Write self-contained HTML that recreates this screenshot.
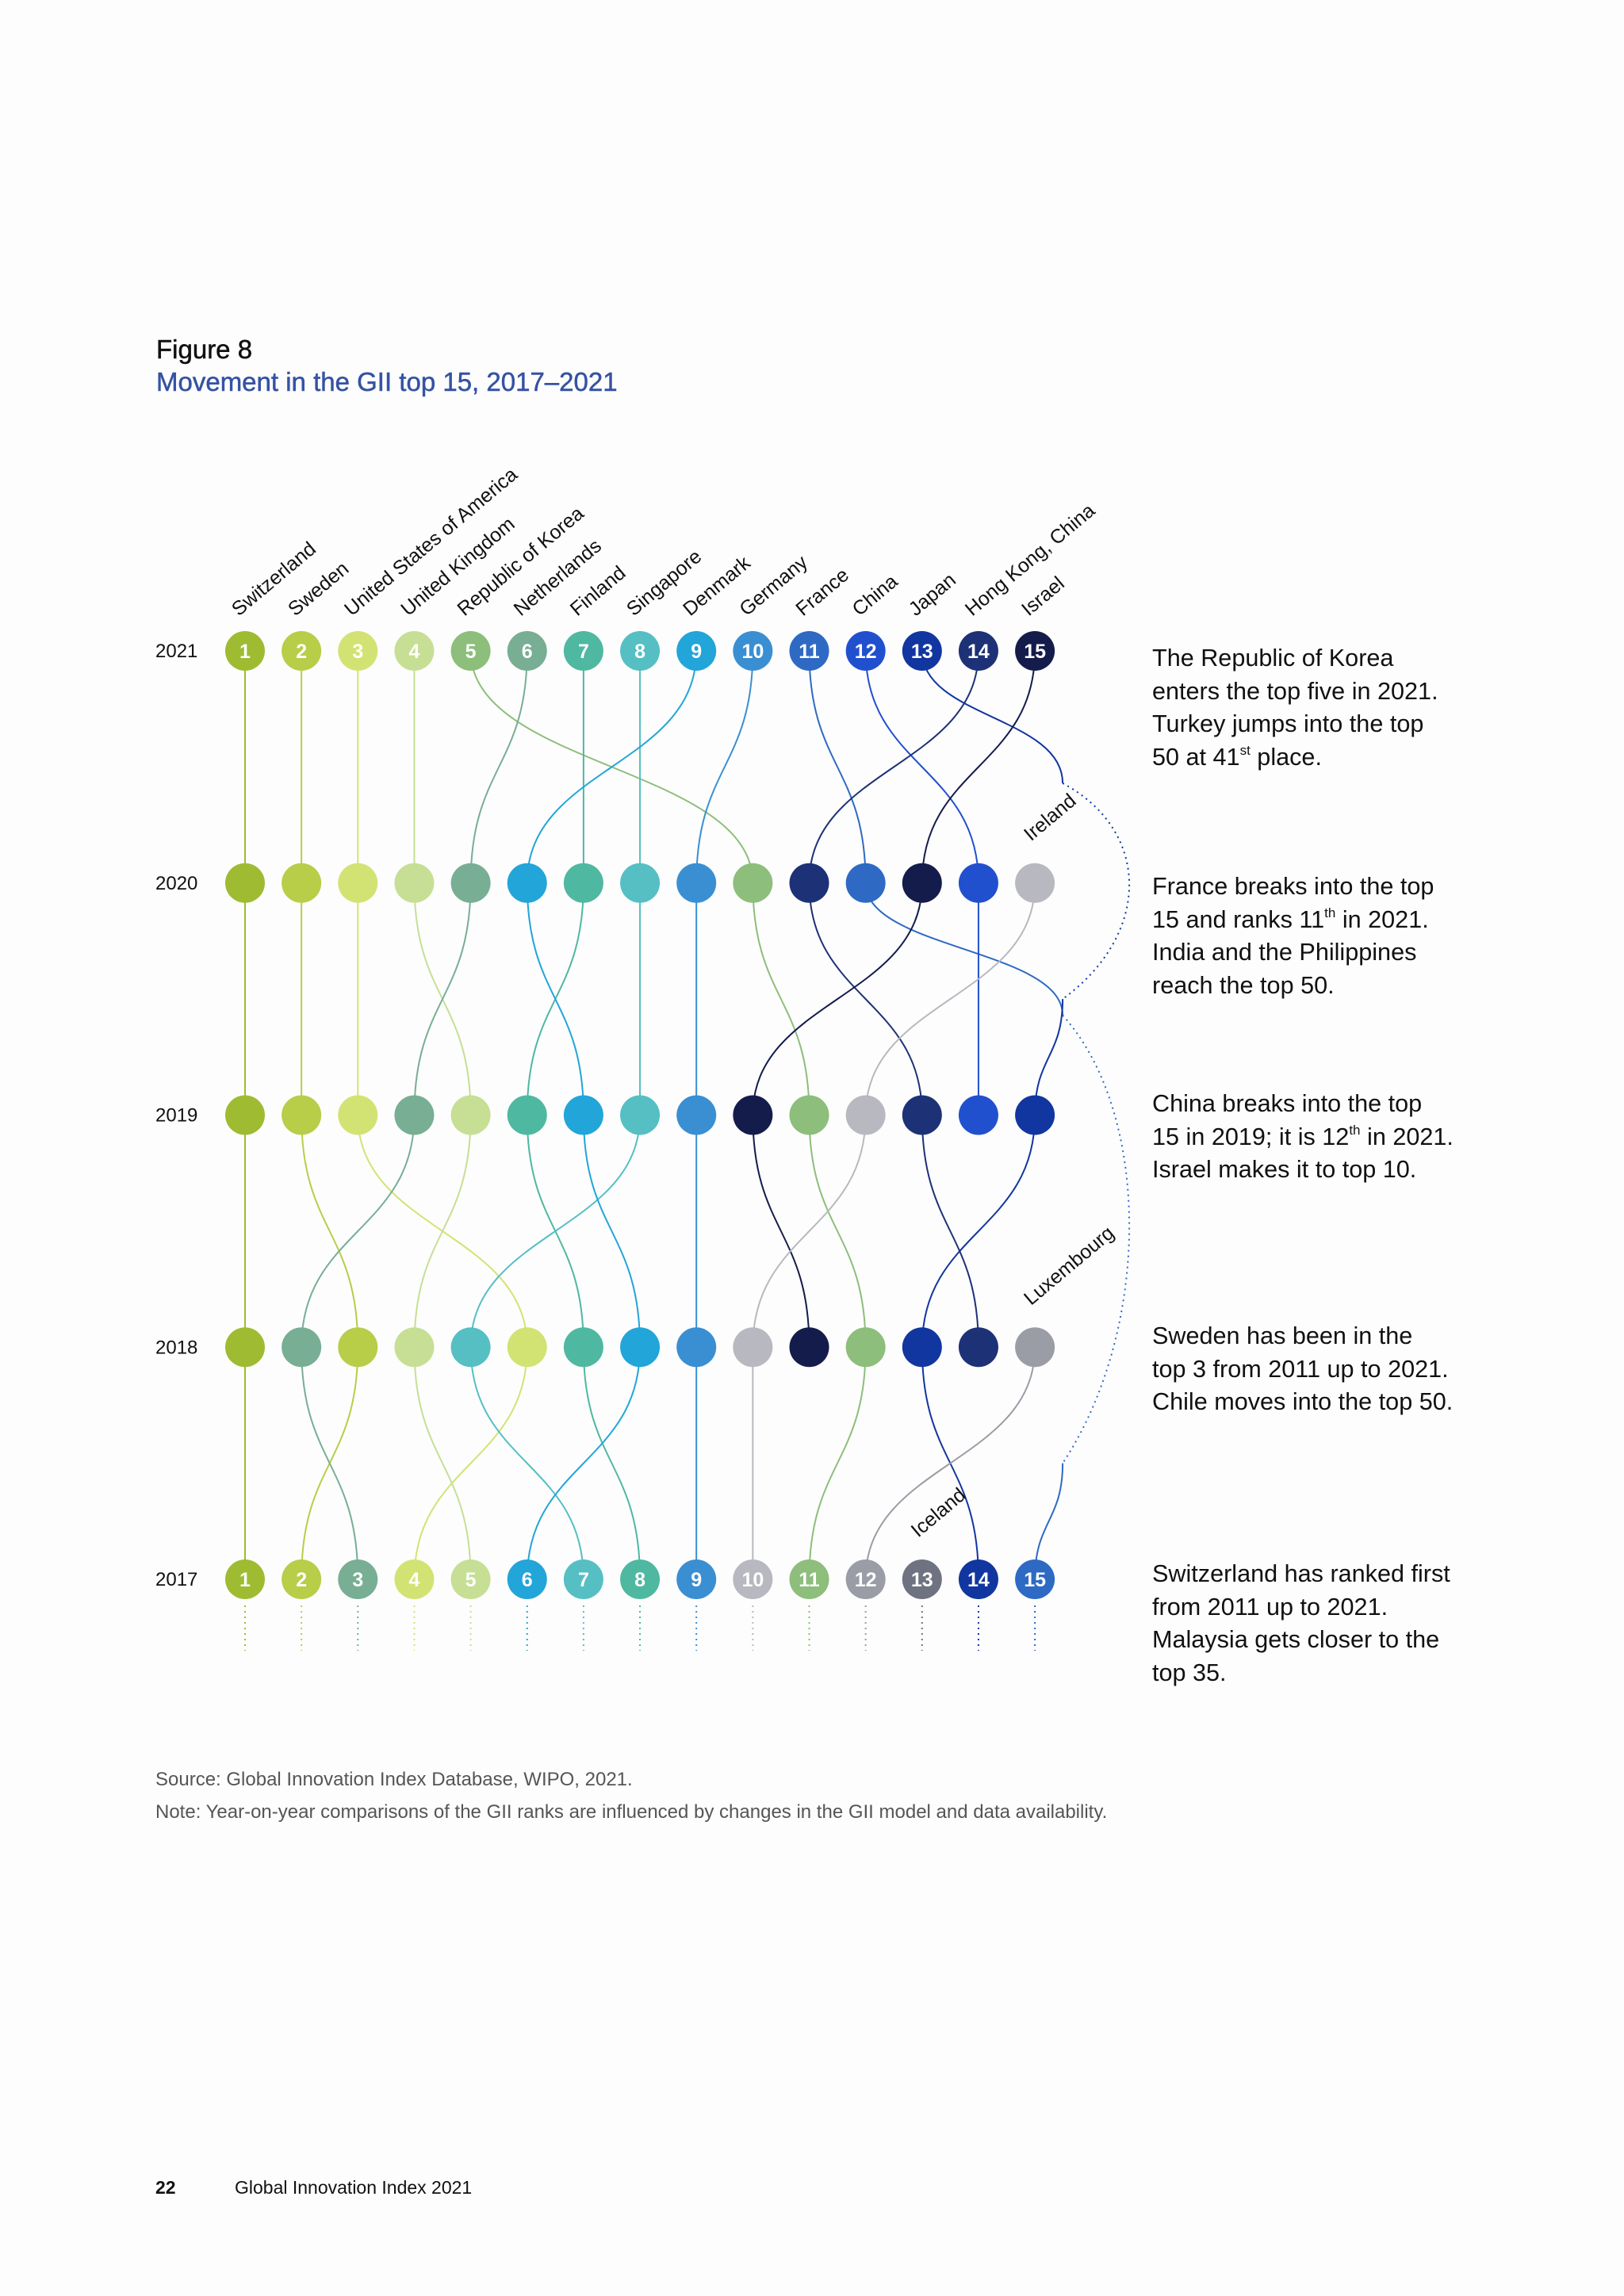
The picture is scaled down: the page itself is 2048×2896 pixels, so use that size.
<!DOCTYPE html>
<html><head><meta charset="utf-8">
<style>
html,body{margin:0;padding:0;background:#fdfdfd;}
body{width:2048px;height:2896px;position:relative;overflow:hidden;font-family:"Liberation Sans",Arial,sans-serif;}
.t{position:absolute;white-space:nowrap;}
.note{position:absolute;left:1453px;font-size:30.6px;line-height:41.5px;color:#111;}
sup{font-size:17px;line-height:0;vertical-align:13px;}
</style></head>
<body>
<div class="t" style="left:197px;top:422px;font-size:33px;color:#111;-webkit-text-stroke:0.5px #111;">Figure 8</div>
<div class="t" style="left:197px;top:463px;font-size:33px;color:#3552a3;-webkit-text-stroke:0.5px #3552a3;">Movement in the GII top 15, 2017–2021</div>

<svg id="chart" width="2048" height="2200" style="position:absolute;left:0;top:0;"></svg>

<div class="note" style="top:810px;">The Republic of Korea<br>enters the top five in 2021.<br>Turkey jumps into the top<br>50 at 41<sup>st</sup> place.</div>
<div class="note" style="top:1098px;">France breaks into the top<br>15 and ranks 11<sup>th</sup> in 2021.<br>India and the Philippines<br>reach the top 50.</div>
<div class="note" style="top:1372px;">China breaks into the top<br>15 in 2019; it is 12<sup>th</sup> in 2021.<br>Israel makes it to top 10.</div>
<div class="note" style="top:1665px;">Sweden has been in the<br>top 3 from 2011 up to 2021.<br>Chile moves into the top 50.</div>
<div class="note" style="top:1965px;">Switzerland has ranked first<br>from 2011 up to 2021.<br>Malaysia gets closer to the<br>top 35.</div>

<div class="t" style="left:196px;top:2231px;font-size:24px;color:#555;">Source: Global Innovation Index Database, WIPO, 2021.</div>
<div class="t" style="left:196px;top:2272px;font-size:24px;color:#555;">Note: Year-on-year comparisons of the GII ranks are influenced by changes in the GII model and data availability.</div>
<div class="t" style="left:196px;top:2746px;font-size:23px;font-weight:bold;color:#111;">22</div>
<div class="t" style="left:296px;top:2746px;font-size:23px;color:#111;">Global Innovation Index 2021</div>

<script>
const years = [2021, 2020, 2019, 2018, 2017];
const countries = ["Switzerland","Sweden","United States of America","United Kingdom","Republic of Korea","Netherlands","Finland","Singapore","Denmark","Germany","France","China","Japan","Hong Kong, China","Israel","Ireland","Luxembourg","Iceland"];
const rank2021 = [1,2,3,4,5,6,7,8,9,10,11,12,13,14,15,null,null,null];
const rank2020 = [1,2,3,4,10,5,7,8,6,9,12,14,null,11,13,15,null,null];
const rank2019 = [1,2,3,5,11,4,6,8,7,9,null,14,15,13,10,12,null,null];
const rank2018 = [1,3,6,4,12,2,7,5,8,9,null,null,13,14,11,10,15,null];
const rank2017 = [1,2,4,5,11,3,8,7,6,9,15,null,14,null,null,10,12,13];
const colors = ["#9fbb32","#b8cd48","#d3e373","#c6df95","#8dbe7b","#78ae94","#4fb8a0","#55bfc4","#22a5d9","#3a8fd3","#2e6ac4","#2150cf","#1236a0","#1d3176","#141c4c","#b8b8c0","#9a9ca6","#6f7280"];
const labeledLate = ["Ireland","Luxembourg","Iceland"];

const ranks = [rank2021, rank2020, rank2019, rank2018, rank2017];
const NS = "http://www.w3.org/2000/svg";
const svg = document.getElementById("chart");
const x0 = 309, dx = 71.15, y0 = 821, dy = 292.75, R = 25;
const xScale = r => x0 + (r - 1) * dx;
const yScale = i => y0 + i * dy;
const outX = xScale(15) + 35;

function mk(tag, attrs, parent) {
  const e = document.createElementNS(NS, tag);
  for (const k in attrs) e.setAttribute(k, attrs[k]);
  (parent || svg).appendChild(e);
  return e;
}
const gLines = mk("g", {});


const gDots = mk("g", {});



function curve(xa, ya, xb, yb) {
  const ym = (ya + yb) / 2;
  return `M${xa},${ya} C${xa},${ym} ${xb},${ym} ${xb},${yb}`;
}

years.forEach((y, i) => {
  const t = mk("text", {x: 196, y: yScale(i) + 8, "font-size": 24, fill: "#111", "font-family": "Liberation Sans, Arial, sans-serif"});
  t.textContent = y;
  
  
});

countries.forEach((c, k) => {
  const r = rank2021[k];
  if (r == null) return;
  const x = xScale(r) - 8, y = 778;
  const t = mk("text", {x: x, y: y, "font-size": 25, fill: "#111", transform: `rotate(-40 ${x} ${y})`, "font-family": "Liberation Sans, Arial, sans-serif"});
  t.textContent = c;
  
  
});

countries.forEach((c, k) => {
  const col = colors[k];
  let prev = null;
  for (let i = 0; i < years.length; i++) {
    const r = ranks[i][k];
    if (r == null) continue;
    if (prev !== null) {
      const pr = ranks[prev][k];
      const xa = xScale(pr), ya = yScale(prev), xb = xScale(r), yb = yScale(i);
      if (i - prev === 1) {
        const p = mk("path", {d: curve(xa, ya, xb, yb), fill: "none", stroke: col, "stroke-width": 2}, gLines);
        
        
      } else {
        const ex = yScale(prev) + 0.57 * dy, en = yb - 0.5 * dy;
        const a = mk("path", {d: curve(xa, ya, outX, ex), fill: "none", stroke: col, "stroke-width": 2}, gLines);
        
        
        const span = en - ex;
        const d = `M${outX},${ex} C${outX + 112},${ex + span * 0.22} ${outX + 112},${en - span * 0.3} ${outX},${en}`;
        const b = mk("path", {d: d, fill: "none", stroke: col, "stroke-width": 2, "stroke-dasharray": "2 5"}, gLines);
        
        
        const c2 = mk("path", {d: curve(outX, en, xb, yb), fill: "none", stroke: col, "stroke-width": 2}, gLines);
        
        
      }
    }
    prev = i;
  }
  const rl = rank2017[k];
  if (rl != null) {
    const p = mk("line", {x1: xScale(rl), y1: yScale(4) + R + 8, x2: xScale(rl), y2: 2082, stroke: col, "stroke-width": 2, "stroke-dasharray": "2 5"}, gLines);
    
    
  }
  for (let i = 0; i < years.length; i++) {
    const r = ranks[i][k];
    if (r == null) continue;
    const ci = mk("circle", {cx: xScale(r), cy: yScale(i), r: R, fill: col}, gDots);
    
    
    if (i === 0 || i === years.length - 1) {
      const t = mk("text", {x: xScale(r), y: yScale(i) + 9, "text-anchor": "middle", "font-size": 25, "font-weight": "bold", fill: "#fff", "font-family": "Liberation Sans, Arial, sans-serif"}, gDots);
      t.textContent = r;
      
      
    }
    if (labeledLate.includes(c)) {
      const before = i > 0 ? ranks[i - 1][k] : null;
      if (before == null) {
        const lx = xScale(r) - 5, ly = yScale(i) - 52;
        const t = mk("text", {x: lx, y: ly, "font-size": 25, fill: "#111", transform: `rotate(-40 ${lx} ${ly})`, "font-family": "Liberation Sans, Arial, sans-serif"});
        t.textContent = c;
        
        
      }
    }
  }
});
</script>
</body></html>
